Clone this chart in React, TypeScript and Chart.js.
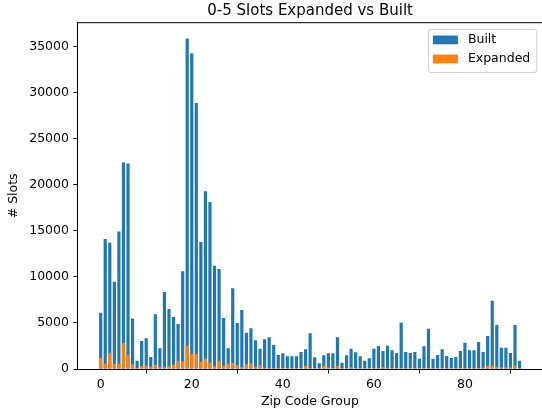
import React, { useEffect, useRef } from "react";
import { Chart, registerables } from "chart.js";

Chart.register(...registerables);

const chartTitle = "0-5 Slots Expanded vs Built";
const xAxisTitle = "Zip Code Group";
const yAxisTitle = "# Slots";
const seriesNames = ["Built", "Expanded"];
const seriesColors = ["#1f77b4", "#ff7f0e"];

const zipGroups = [
  0, 1, 2, 3, 4, 5, 6, 7, 8, 9,
  10, 11, 12, 13, 14, 15, 16, 17, 18, 19,
  20, 21, 22, 23, 24, 25, 26, 27, 28, 29,
  30, 31, 32, 33, 34, 35, 36, 37, 38, 39,
  40, 41, 42, 43, 44, 45, 46, 47, 48, 49,
  50, 51, 52, 53, 54, 55, 56, 57, 58, 59,
  60, 61, 62, 63, 64, 65, 66, 67, 68, 69,
  70, 71, 72, 73, 74, 75, 76, 77, 78, 79,
  80, 81, 82, 83, 84, 85, 86, 87, 88, 89,
  90, 91, 92,
];

const builtSlots = [
  6100, 14100, 13700, 9470, 14900, 22400, 22300, 5490, 900, 3040,
  3330, 1300, 5930, 2240, 8350, 6510, 5640, 4880, 10590, 35850,
  34240, 28850, 13770, 19270, 18110, 11200, 10850, 5530, 2240, 8770,
  4980, 6400, 3940, 4410, 3110, 2200, 3220, 3440, 2600, 1520,
  1700, 1370, 1370, 1370, 1840, 2130, 3870, 1270, 620, 1480,
  1700, 1700, 3440, 690, 1480, 2200, 1810, 1370, 900, 1160,
  2200, 2490, 1940, 2520, 2030, 1740, 5020, 1840, 1740, 1840,
  1120, 2460, 4370, 1120, 1520, 2130, 1410, 1190, 1300, 1950,
  2860, 2030, 2030, 2930, 1840, 3580, 7410, 4770, 2310, 2310,
  1740, 4770, 900,
];

const expandedSlots = [
  1190, 580, 1740, 580, 580, 2820, 1520, 510, 100, 290,
  360, 250, 470, 250, 200, 290, 470, 900, 850, 2490,
  1630, 1630, 790, 1120, 680, 290, 900, 360, 580, 650,
  420, 230, 510, 620, 200, 400, 140, 110, 110, 110,
  110, 70, 110, 110, 70, 330, 110, 70, 110, 330,
  150, 70, 330, 70, 70, 200, 70, 70, 70, 70,
  70, 110, 200, 130, 70, 70, 70, 110, 70, 70,
  70, 70, 110, 70, 70, 70, 110, 70, 110, 70,
  110, 110, 110, 110, 200, 330, 330, 250, 200, 200,
  150, 360, 70,
];

const xTickValues = [0, 20, 40, 60, 80];
const yTickValues = [0, 5000, 10000, 15000, 20000, 25000, 30000, 35000];

const FONT = '"DejaVu Sans", "Liberation Sans", sans-serif';
const X_MIN = -5.04;
const X_MAX = 96.93;
const X_AXES_RIGHT = 97.04;
const Y_MAX = 37560;

const decorPlugin = {
  id: "decor",
  afterDraw(chart: any) {
    const { ctx, chartArea } = chart;
    const xScale = chart.scales.x;
    const axesRight = xScale.getPixelForValue(X_AXES_RIGHT);
    ctx.save();
    // top spine
    ctx.strokeStyle = "#000";
    ctx.lineWidth = 1;
    ctx.beginPath();
    ctx.moveTo(chartArea.left, chartArea.top);
    ctx.lineTo(chartArea.right, chartArea.top);
    ctx.stroke();

    // title
    ctx.fillStyle = "#000";
    ctx.font = `15px ${FONT}`;
    ctx.textAlign = "center";
    ctx.textBaseline = "alphabetic";
    ctx.fillText(chartTitle, (chartArea.left + axesRight) / 2, chartArea.top - 7.5);

    // legend
    ctx.font = `12.5px ${FONT}`;
    const widths = seriesNames.map((n) => ctx.measureText(n).width);
    const maxW = Math.max(...widths);
    const boxW = 5 + 25 + 10 + maxW + 6;
    const boxH = 43;
    const right = axesRight - 6.25;
    const left = right - boxW;
    const top = chartArea.top + 6.25;
    ctx.beginPath();
    if ((ctx as any).roundRect) {
      (ctx as any).roundRect(left + 0.5, top + 0.5, boxW, boxH, 2.5);
    } else {
      ctx.rect(left + 0.5, top + 0.5, boxW, boxH);
    }
    ctx.fillStyle = "rgba(255,255,255,0.8)";
    ctx.fill();
    ctx.strokeStyle = "#cccccc";
    ctx.lineWidth = 1;
    ctx.stroke();
    seriesNames.forEach((name, i) => {
      const cy = top + 11 + i * 19;
      ctx.fillStyle = seriesColors[i];
      ctx.fillRect(left + 5, cy - 4.4, 25, 8.75);
      ctx.fillStyle = "#000";
      ctx.textAlign = "left";
      ctx.textBaseline = "middle";
      ctx.fillText(name, left + 5 + 25 + 10, cy);
    });
    ctx.restore();
  },
};

export default function App() {
  const canvasRef = useRef<HTMLCanvasElement | null>(null);

  useEffect(() => {
    if (!canvasRef.current) return;
    const chart = new Chart(canvasRef.current, {
      type: "bar",
      data: {
        datasets: [
          {
            label: seriesNames[0],
            data: builtSlots.map((v, i) => ({ x: zipGroups[i], y: v })),
            backgroundColor: seriesColors[0],
            borderWidth: 0,
            inflateAmount: 0,
            grouped: false,
            order: 2,
            barPercentage: 0.7,
            categoryPercentage: 1.0,
          } as any,
          {
            label: seriesNames[1],
            data: expandedSlots.map((v, i) => ({ x: zipGroups[i], y: v })),
            backgroundColor: seriesColors[1],
            borderWidth: 0,
            inflateAmount: 0,
            grouped: false,
            order: 1,
            barPercentage: 0.7,
            categoryPercentage: 1.0,
          } as any,
        ],
      },
      options: {
        responsive: false,
        animation: false,
        devicePixelRatio: 1,
        layout: { padding: { top: 22.7, left: 0, right: 0, bottom: 0 } },
        plugins: {
          legend: { display: false },
          title: { display: false },
          tooltip: { enabled: false },
        },
        scales: {
          x: {
            type: "linear",
            min: X_MIN,
            max: X_MAX,
            offset: false,
            afterBuildTicks: (scale: any) => {
              scale.ticks = xTickValues.map((v) => ({ value: v }));
            },
            afterFit: (scale: any) => {
              scale.height = 41;
            },
            grid: {
              display: true,
              drawOnChartArea: false,
              drawTicks: true,
              tickLength: 4.4,
              tickColor: "#000",
              tickWidth: 1,
            },
            border: { display: true, color: "#000", width: 1 },
            ticks: {
              color: "#000",
              font: { family: FONT, size: 12.5 },
              padding: 3.5,
              maxRotation: 0,
              autoSkip: false,
              callback: (v: any) => String(v),
            },
            title: {
              display: true,
              text: xAxisTitle,
              color: "#000",
              font: { family: FONT, size: 12.5 },
              padding: { top: 0, bottom: 0.5 },
            },
          },
          y: {
            type: "linear",
            min: 0,
            max: Y_MAX,
            afterBuildTicks: (scale: any) => {
              scale.ticks = yTickValues.map((v) => ({ value: v }));
            },
            afterFit: (scale: any) => {
              scale.width = 77.75;
            },
            grid: {
              display: true,
              drawOnChartArea: false,
              drawTicks: true,
              tickLength: 4.4,
              tickColor: "#000",
              tickWidth: 1,
            },
            border: { display: true, color: "#000", width: 1 },
            ticks: {
              color: "#000",
              font: { family: FONT, size: 12.5 },
              padding: 4.4,
              autoSkip: false,
              callback: (v: any) => String(v),
            },
            title: {
              display: true,
              text: yAxisTitle,
              color: "#000",
              font: { family: FONT, size: 12.5 },
              padding: { top: 6.5, bottom: 0 },
            },
          },
        },
      },
      plugins: [decorPlugin],
    });
    return () => chart.destroy();
  }, []);

  return (
    <div style={{ position: "absolute", left: 0, top: 0, width: 542, height: 410, background: "#fff" }}>
      <canvas ref={canvasRef} width={542} height={410} style={{ width: 542, height: 410, display: "block" }} />
    </div>
  );
}
